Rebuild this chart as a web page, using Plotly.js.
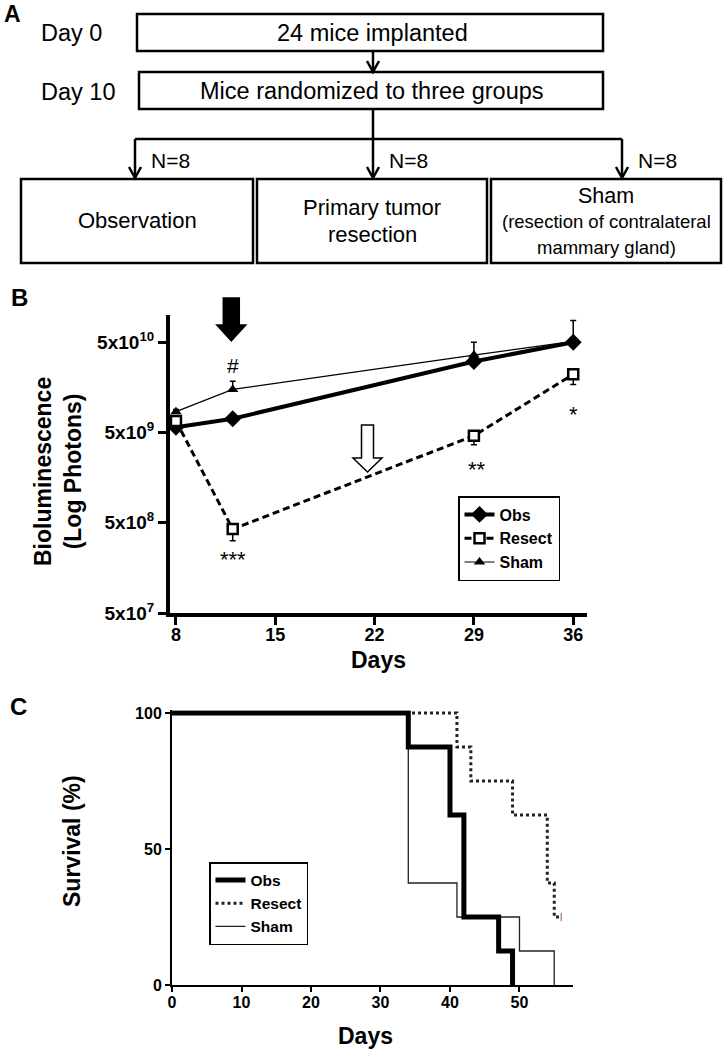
<!DOCTYPE html>
<html>
<head>
<meta charset="utf-8">
<script src="https://cdn.plot.ly/plotly-3.0.1.min.js"></script>
<style>html,body{margin:0;padding:0;background:#fff;} #chart{width:724px;height:1050px;}</style>
</head>
<body>
<div id="chart"></div>
<script>
// ---------- Data ----------
// Panel B: bioluminescence (photons) by day
const bDays = [8, 12, 29, 36];
const obsBio = [5.7e9, 7.1e9, 3.05e10, 5.0e10];
const obsBioErrUp = [3e8, 4e8, 2e9, 3.7e10];
const resectBio = [6.7e9, 4.25e8, 4.6e9, 2.2e10];
const resectBioErrDown = [4e8, 1.1e8, 9.5e8, 5e9];
const shamBio = [8.5e9, 1.5e10, 3.6e10, 5.1e10];
const shamBioErrUp = [5e8, 3.5e9, 1.4e10, 5e9];
const bTickDays = [8, 15, 22, 29, 36];
const bTickVals = [5e7, 5e8, 5e9, 5e10];
const bTickText = ['5x10<sup>7</sup>', '5x10<sup>8</sup>', '5x10<sup>9</sup>', '5x10<sup>10</sup>'];

// Panel C: Kaplan-Meier survival (%)
const obsSurvDays = [0, 34, 40, 42, 47, 49];
const obsSurv = [100, 87.5, 62.5, 25, 12.5, 0];
const resectSurvDays = [0, 41, 43, 49, 54, 55, 56];
const resectSurv = [100, 87.5, 75, 62.5, 37.5, 25, 25];
const shamSurvDays = [0, 34, 41, 50, 55];
const shamSurv = [100, 37.5, 25, 12.5, 0];
const resectCensorDay = [56];
const resectCensorSurv = [25];
const cTickDays = [0, 10, 20, 30, 40, 50];
const cTickSurv = [0, 50, 100];

// ---------- helpers ----------
const W = 724, H = 1050;
const FONT = 'Liberation Sans, Arial, Helvetica, sans-serif';
function px(x) { return x / W; }
function py(y) { return 1 - y / H; }

// ---------- traces ----------
const traces = [
  {
    name: 'Obs', x: bDays, y: obsBio, xaxis: 'x', yaxis: 'y', legend: 'legend',
    mode: 'lines+markers', line: {color: '#000', width: 4},
    marker: {symbol: 'diamond', size: 13, color: '#000'},
    error_y: {type: 'data', symmetric: false, array: obsBioErrUp, arrayminus: [0,0,0,0], color: '#000', thickness: 1.5, width: 3}
  },
  {
    name: 'Resect', x: bDays, y: resectBio, xaxis: 'x', yaxis: 'y', legend: 'legend',
    mode: 'lines+markers', line: {color: '#000', width: 3, dash: '7px,4px'},
    marker: {symbol: 'square', size: 10, color: '#fff', line: {color: '#000', width: 2.5}},
    error_y: {type: 'data', symmetric: false, array: [0,0,0,0], arrayminus: resectBioErrDown, color: '#000', thickness: 1.5, width: 3}
  },
  {
    name: 'Sham', x: bDays, y: shamBio, xaxis: 'x', yaxis: 'y', legend: 'legend',
    mode: 'lines+markers', line: {color: '#000', width: 1.2},
    marker: {symbol: 'triangle-up', size: 10, color: '#000'},
    error_y: {type: 'data', symmetric: false, array: shamBioErrUp, arrayminus: [0,0,0,0], color: '#000', thickness: 1.5, width: 3}
  },
  {
    name: 'Sham', x: shamSurvDays, y: shamSurv, xaxis: 'x2', yaxis: 'y2', legend: 'legend2', legendrank: 3,
    mode: 'lines', line: {shape: 'hv', color: '#222', width: 1.3}
  },
  {
    name: 'Resect', x: resectSurvDays, y: resectSurv, xaxis: 'x2', yaxis: 'y2', legend: 'legend2', legendrank: 2,
    mode: 'lines', line: {shape: 'hv', color: '#222', width: 3, dash: 'dot'}
  },
  {
    name: 'Resect censored', x: resectCensorDay, y: resectCensorSurv, xaxis: 'x2', yaxis: 'y2',
    mode: 'markers', showlegend: false, cliponaxis: false,
    marker: {symbol: 'line-ns-open', size: 6, line: {color: '#444', width: 1}}
  },
  {
    name: 'Obs', x: obsSurvDays, y: obsSurv, xaxis: 'x2', yaxis: 'y2', legend: 'legend2', legendrank: 1,
    mode: 'lines', line: {shape: 'hv', color: '#000', width: 5}
  }
];

// ---------- panel A shapes ----------
const LW = 2.5;
function rect(x0, y0, x1, y1) {
  return {type: 'rect', xref: 'paper', yref: 'paper', x0: px(x0), x1: px(x1), y0: py(y0), y1: py(y1), line: {color: '#000', width: LW}};
}
function seg(x0, y0, x1, y1) {
  return {type: 'line', xref: 'paper', yref: 'paper', x0: px(x0), x1: px(x1), y0: py(y0), y1: py(y1), line: {color: '#000', width: LW}};
}
function head(x, y) {
  return {type: 'path', xref: 'paper', yref: 'paper',
    path: 'M ' + px(x - 6) + ' ' + py(y - 11) + ' L ' + px(x) + ' ' + py(y) + ' L ' + px(x + 6) + ' ' + py(y - 11),
    line: {color: '#000', width: LW}};
}
function blockArrow(day, top, neck, tip, shaftHalf, headHalf, fill) {
  const p = 'M ' + (-shaftHalf) + ' ' + py(top) + ' L ' + shaftHalf + ' ' + py(top) +
    ' L ' + shaftHalf + ' ' + py(neck) + ' L ' + headHalf + ' ' + py(neck) +
    ' L 0 ' + py(tip) + ' L ' + (-headHalf) + ' ' + py(neck) +
    ' L ' + (-shaftHalf) + ' ' + py(neck) + ' Z';
  return {type: 'path', xref: 'x', yref: 'paper', xsizemode: 'pixel', xanchor: day,
    path: p, fillcolor: fill, line: {color: '#000', width: 1.5}, layer: 'above'};
}

const shapes = [
  rect(137, 14, 603, 51),
  rect(139, 72, 603, 109),
  rect(21, 179, 253, 263),
  rect(257, 179, 487, 263),
  rect(491, 179, 721, 263),
  seg(373, 51, 373, 71),
  head(373, 72),
  seg(373, 109, 373, 139),
  seg(135, 139, 622, 139),
  seg(135, 139, 135, 177),
  seg(373, 139, 373, 177),
  seg(622, 139, 622, 177),
  head(135, 178),
  head(373, 178),
  head(622, 178),
  blockArrow(11.9, 298, 325, 341, 8, 14.5, '#000'),
  blockArrow(21.5, 425, 458, 472, 6, 14.5, '#fff')
];

// ---------- annotations ----------
function txt(text, x, y, size, opts) {
  opts = opts || {};
  return Object.assign({
    text: text, xref: 'paper', yref: 'paper', x: px(x), y: py(y),
    xanchor: 'center', yanchor: 'middle', showarrow: false,
    font: {family: FONT, size: size, color: '#000', weight: opts.bold ? 'bold' : 'normal'}
  }, opts.extra || {});
}
function dayTxt(text, day, y, size) {
  return {text: text, xref: 'x', yref: 'paper', x: day, y: py(y), xanchor: 'center', yanchor: 'middle',
    showarrow: false, font: {family: FONT, size: size, color: '#000'}};
}

const annotations = [
  txt('A', 12, 14, 23, {bold: true}),
  txt('Day 0', 39, 33, 23.5, {extra: {xanchor: 'left'}}),
  txt('Day 10', 39, 92, 23.5, {extra: {xanchor: 'left'}}),
  txt('24 mice implanted', 372, 33, 23.5),
  txt('Mice randomized to three groups', 372, 91, 23.5),
  txt('N=8', 149, 160, 21, {extra: {xanchor: 'left'}}),
  txt('N=8', 387, 160, 21, {extra: {xanchor: 'left'}}),
  txt('N=8', 636, 160, 21, {extra: {xanchor: 'left'}}),
  txt('Observation', 137, 220, 22),
  txt('Primary tumor', 372, 207, 22),
  txt('resection', 372, 235, 22),
  txt('Sham', 606, 196, 21.5),
  txt('(resection of contralateral', 606, 222, 18.5),
  txt('mammary gland)', 606, 247, 18.5),
  txt('B', 19, 297, 24, {bold: true}),
  txt('C', 18, 706, 24, {bold: true}),
  txt('Bioluminescence<br>(Log Photons)', 58, 472, 23, {bold: true, extra: {textangle: -90}}),
  txt('Days', 378, 660, 23, {bold: true}),
  txt('Survival (%)', 72, 841, 23, {bold: true, extra: {textangle: -90}}),
  txt('Days', 365, 1036, 23, {bold: true}),
  dayTxt('#', 12, 366, 21),
  dayTxt('***', 12, 559, 22),
  dayTxt('**', 29.2, 469, 22),
  dayTxt('*', 36, 414, 22)
];

const tickFont = (s) => ({family: FONT, size: s, color: '#000', weight: 'bold'});
const cYTop = 985 - 101 * 2.72;

const layout = {
  width: W, height: H,
  margin: {l: 0, r: 0, t: 0, b: 0, pad: 0},
  paper_bgcolor: '#fff', plot_bgcolor: 'rgba(0,0,0,0)',
  showlegend: true,
  xaxis: {
    domain: [px(170), px(587)], range: [7.58, 36.97], anchor: 'y',
    showline: true, linewidth: 4, linecolor: '#000', mirror: false,
    ticks: 'outside', ticklen: 8, tickwidth: 3, tickcolor: '#000',
    tickmode: 'array', tickvals: bTickDays, tickfont: tickFont(18),
    ticklabelstandoff: -6,
    showgrid: false, zeroline: false
  },
  yaxis: {
    domain: [py(613), py(315)], type: 'log', range: [Math.log10(5e7), 11.0], anchor: 'x',
    showline: true, linewidth: 4, linecolor: '#000',
    ticks: 'outside', ticklen: 8, tickwidth: 3, tickcolor: '#000',
    tickmode: 'array', tickvals: bTickVals, ticktext: bTickText, tickfont: tickFont(19),
    showgrid: false, zeroline: false
  },
  xaxis2: {
    domain: [px(172), px(573)], range: [0, 57.7], anchor: 'y2',
    showline: true, linewidth: 2, linecolor: '#000',
    ticks: 'outside', ticklen: 5, tickwidth: 2, tickcolor: '#000',
    tickmode: 'array', tickvals: cTickDays, tickfont: tickFont(16),
    ticklabelstandoff: -3,
    showgrid: false, zeroline: false
  },
  yaxis2: {
    domain: [py(985), py(cYTop)], range: [0, 101], anchor: 'x2',
    showline: true, linewidth: 2, linecolor: '#000',
    ticks: 'outside', ticklen: 5, tickwidth: 2, tickcolor: '#000',
    tickmode: 'array', tickvals: cTickSurv, tickfont: tickFont(16),
    showgrid: false, zeroline: false
  },
  legend: {
    x: px(458), y: py(496), xanchor: 'left', yanchor: 'top',
    bgcolor: '#fff', bordercolor: '#000', borderwidth: 1.5,
    font: {family: FONT, size: 16, color: '#000', weight: 'bold'},
    tracegroupgap: 0, itemwidth: 30
  },
  legend2: {
    x: px(209), y: py(862), xanchor: 'left', yanchor: 'top',
    bgcolor: '#fff', bordercolor: '#000', borderwidth: 1.5,
    font: {family: FONT, size: 15.5, color: '#000', weight: 'bold'},
    tracegroupgap: 0, itemwidth: 30
  },
  shapes: shapes,
  annotations: annotations
};

Plotly.newPlot('chart', traces, layout, {displayModeBar: false, staticPlot: true});
</script>
</body>
</html>
